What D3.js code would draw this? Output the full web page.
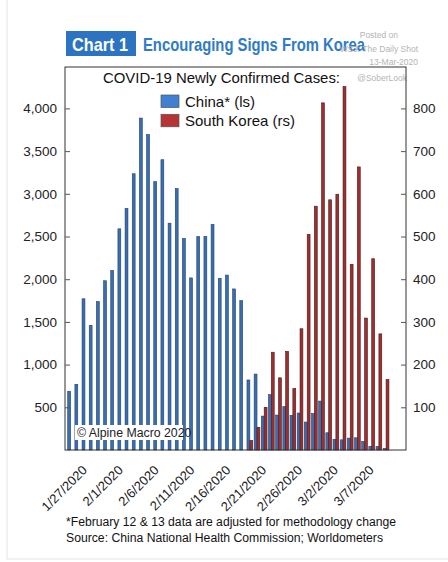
<!DOCTYPE html>
<html>
<head>
<meta charset="utf-8">
<script src="https://cdn.jsdelivr.net/npm/d3@7"></script>
<style>
  body { margin: 0; background: #fff; }
  svg { display: block; }
  text { font-family: "Liberation Sans", Arial, sans-serif; }
</style>
</head>
<body>
<svg id="chart" width="448" height="562"></svg>
<script>
// Daily categories (one band per day)
const days = [
  "2020-01-25","2020-01-26","2020-01-27","2020-01-28","2020-01-29","2020-01-30","2020-01-31",
  "2020-02-01","2020-02-02","2020-02-03","2020-02-04","2020-02-05","2020-02-06","2020-02-07",
  "2020-02-08","2020-02-09","2020-02-10","2020-02-11","2020-02-12","2020-02-13","2020-02-14",
  "2020-02-15","2020-02-16","2020-02-17","2020-02-18","2020-02-19","2020-02-20","2020-02-21",
  "2020-02-22","2020-02-23","2020-02-24","2020-02-25","2020-02-26","2020-02-27","2020-02-28",
  "2020-02-29","2020-03-01","2020-03-02","2020-03-03","2020-03-04","2020-03-05","2020-03-06",
  "2020-03-07","2020-03-08","2020-03-09","2020-03-10","2020-03-11"
];

// China newly confirmed cases (left scale)
const china = [
  688, 769, 1771, 1459, 1737, 1982, 2102,
  2590, 2829, 3235, 3887, 3694, 3143, 3399,
  2656, 3062, 2478, 2015, 2500, 2500, 2641,
  2009, 2048, 1886, 1749, 820, 889, 397,
  648, 409, 508, 406, 433, 327, 427,
  573, 202, 125, 119, 139, 143, 99,
  44, 40, 19, null, null
];

// South Korea newly confirmed cases (right scale)
const korea = [
  null, null, null, null, null, null, null,
  null, null, null, null, null, null, null,
  null, null, null, null, null, null, null,
  null, null, null, null, 22, 53, 100,
  229, 169, 231, 144, 284, 505, 571,
  813, 586, 599, 851, 435, 663, 309,
  448, 272, 165, null, null
];

const xTickLabels = ["1/27/2020","2/1/2020","2/6/2020","2/11/2020","2/16/2020","2/21/2020","2/26/2020","3/2/2020","3/7/2020"];
const leftTicks = [500, 1000, 1500, 2000, 2500, 3000, 3500, 4000];
const rightTicks = [100, 200, 300, 400, 500, 600, 700, 800];

const seriesNames = ["China* (ls)", "South Korea (rs)"];
const seriesFill = ["#3a6eb0", "#9e2f30"];
const seriesStroke = ["#1f416e", "#4e1616"];
const legendFill = ["#3f80d2", "#b53436"];

const svg = d3.select("#chart");
const plot = { left: 65, right: 406, top: 67, bottom: 450 };

// light page edge
svg.append("line").attr("x1", 7).attr("x2", 7).attr("y1", 0).attr("y2", 559)
  .attr("stroke", "#e4e4e4");
svg.append("line").attr("x1", 7).attr("x2", 448).attr("y1", 559).attr("y2", 559)
  .attr("stroke", "#e4e4e4");

// Header
svg.append("rect").attr("x", 66).attr("y", 31).attr("width", 70).attr("height", 25)
  .attr("fill", "#2c74c2");
svg.append("text").attr("x", 72).attr("y", 50.5).attr("fill", "#fff")
  .attr("font-size", 19).attr("font-weight", "bold")
  .attr("textLength", 56).attr("lengthAdjust", "spacingAndGlyphs")
  .text("Chart 1");
svg.append("text").attr("x", 143).attr("y", 50.5).attr("fill", "#2f7cc8")
  .attr("font-size", 19).attr("font-weight", "bold")
  .attr("textLength", 222).attr("lengthAdjust", "spacingAndGlyphs")
  .text("Encouraging Signs From Korea");

// Posting stamp
const stamp = [["Posted on", 38, 398], ["WSJ: The Daily Shot", 51.5, 418], ["13-Mar-2020", 65, 418], ["@SoberLook", 80.5, 407]];
stamp.forEach(([t, y, x]) => {
  svg.append("text").attr("x", x).attr("y", y).attr("text-anchor", "end")
    .attr("font-size", 8.5).attr("fill", "#b4b4b4").text(t);
});

// Scales
const x = d3.scaleBand().domain(days).range([plot.left, plot.right])
  .paddingInner(0).paddingOuter(0.28);
const bw = x.bandwidth();
const sub = d3.scaleBand().domain([0, 1]).range([0.1 * bw, 0.9 * bw]).padding(0);
const yL = d3.scaleLinear().domain([0, 4485]).range([plot.bottom, plot.top]);
const yR = d3.scaleLinear().domain([0, 897]).range([plot.bottom, plot.top]);

// Bars
const gBars = svg.append("g");
gBars.selectAll("rect.cn").data(days.map((d, i) => ({ d, v: china[i] })).filter(o => o.v != null))
  .join("rect").attr("class", "cn")
  .attr("x", o => x(o.d) + sub(0)).attr("width", sub.bandwidth())
  .attr("y", o => yL(o.v)).attr("height", o => yL(0) - yL(o.v))
  .attr("fill", seriesFill[0]).attr("stroke", seriesStroke[0]).attr("stroke-width", 0.6);
gBars.selectAll("rect.kr").data(days.map((d, i) => ({ d, v: korea[i] })).filter(o => o.v != null))
  .join("rect").attr("class", "kr")
  .attr("x", o => x(o.d) + sub(1)).attr("width", sub.bandwidth())
  .attr("y", o => yR(o.v)).attr("height", o => yR(0) - yR(o.v))
  .attr("fill", seriesFill[1]).attr("stroke", seriesStroke[1]).attr("stroke-width", 0.6);

// Copyright note over the bars
svg.append("rect").attr("x", 75).attr("y", 425).attr("width", 108).attr("height", 15).attr("fill", "#fff");
svg.append("text").attr("x", 77).attr("y", 436.5).attr("font-size", 12.3).attr("fill", "#222")
  .text("\u00a9 Alpine Macro 2020");

// Frame
svg.append("rect").attr("x", plot.left).attr("y", plot.top)
  .attr("width", plot.right - plot.left).attr("height", plot.bottom - plot.top)
  .attr("fill", "none").attr("stroke", "#333").attr("stroke-width", 1);

// Left axis
const axL = svg.append("g").attr("transform", `translate(${plot.left},0)`)
  .call(d3.axisLeft(yL).tickValues(leftTicks).tickSize(-5).tickPadding(8).tickFormat(d3.format(",")));
axL.select(".domain").remove();
axL.selectAll("line").attr("stroke", "#555");
axL.selectAll("text").attr("font-size", 13.5).attr("fill", "#222")
  .style("font-family", '"Liberation Sans", Arial, sans-serif');

// Right axis
const axR = svg.append("g").attr("transform", `translate(${plot.right},0)`)
  .call(d3.axisRight(yR).tickValues(rightTicks).tickSize(-5).tickPadding(7));
axR.select(".domain").remove();
axR.selectAll("line").attr("stroke", "#555");
axR.selectAll("text").attr("font-size", 13.5).attr("fill", "#222")
  .style("font-family", '"Liberation Sans", Arial, sans-serif');

// Bottom date labels
const parseLabel = d3.timeParse("%m/%d/%Y");
const keyFmt = d3.timeFormat("%Y-%m-%d");
svg.append("g").selectAll("text").data(xTickLabels).join("text")
  .attr("transform", l => `translate(${x(keyFmt(parseLabel(l))) + bw / 2 + 3},${plot.bottom + 21}) rotate(-45)`)
  .attr("text-anchor", "end").attr("font-size", 13).attr("fill", "#222")
  .text(l => l);

// In-plot title and legend
svg.append("text").attr("x", 103).attr("y", 82.5).attr("font-size", 15).attr("fill", "#111")
  .attr("textLength", 237).attr("lengthAdjust", "spacingAndGlyphs")
  .text("COVID-19 Newly Confirmed Cases:");
const leg = svg.append("g");
seriesNames.forEach((name, i) => {
  const y0 = 95 + i * 19.3;
  leg.append("rect").attr("x", 161).attr("y", y0).attr("width", 18).attr("height", 12.5)
    .attr("fill", legendFill[i]).attr("stroke", "#555").attr("stroke-width", 0.7);
  leg.append("text").attr("x", 185).attr("y", y0 + 11.8).attr("font-size", 15).attr("fill", "#111")
    .text(name);
});

// Footnotes
svg.append("text").attr("x", 66).attr("y", 526).attr("font-size", 12.3).attr("fill", "#111")
  .attr("textLength", 330).attr("lengthAdjust", "spacingAndGlyphs")
  .text("*February 12 & 13 data are adjusted for methodology change");
svg.append("text").attr("x", 66).attr("y", 541.5).attr("font-size", 12.3).attr("fill", "#111")
  .attr("textLength", 317).attr("lengthAdjust", "spacingAndGlyphs")
  .text("Source: China National Health Commission; Worldometers");
</script>
</body>
</html>
